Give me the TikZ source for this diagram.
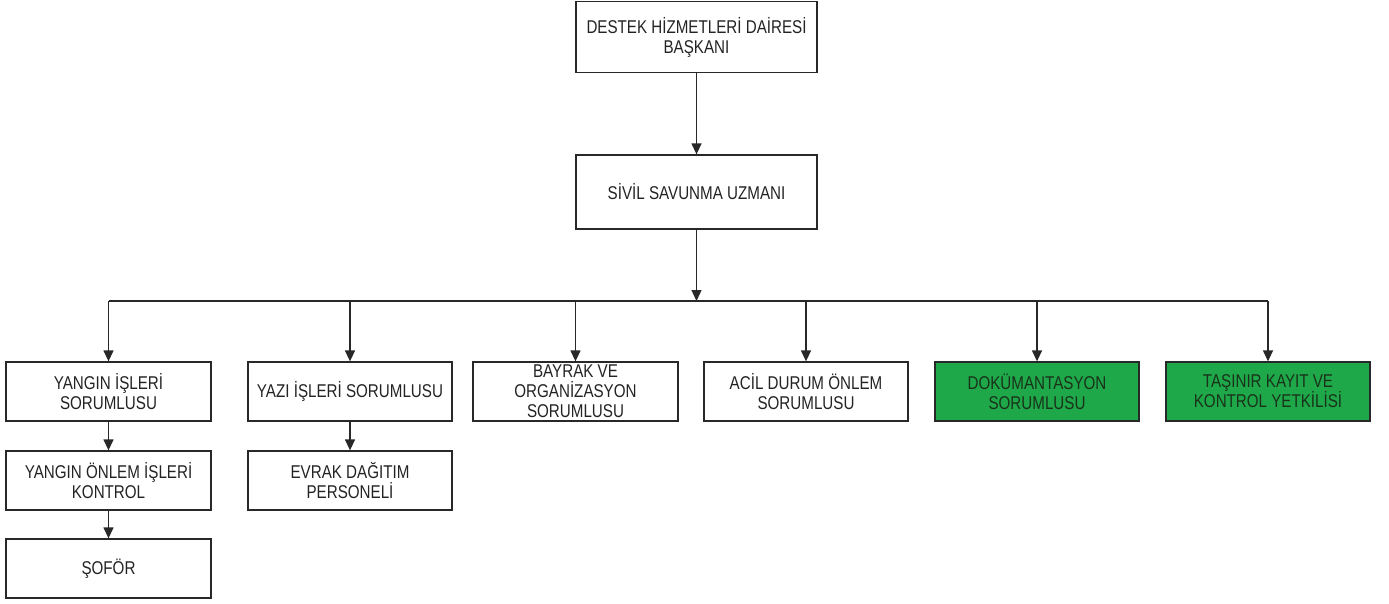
\documentclass[tikz,border=0pt]{standalone}
\usepackage{fontspec}
\setmainfont[FakeStretch=0.82]{Liberation Sans}
\usetikzlibrary{arrows.meta}
\definecolor{boxgreen}{RGB}{30,168,74}
\definecolor{lineC}{RGB}{40,40,40}
\definecolor{txtC}{RGB}{35,35,35}
\begin{document}
\begin{tikzpicture}[x=1pt,y=-1pt,
  box/.style={draw=lineC,line width=1.3pt,fill=white,inner sep=0pt,align=center,
    text=txtC,font=\fontsize{18.5}{20}\selectfont},
  gbox/.style={box,fill=boxgreen,text={rgb,255:red,25;green,50;blue,25}},
  arr/.style={draw=lineC,line width=1.3pt,-{Triangle[length=11pt,width=10pt]}},
  ln/.style={draw=lineC,line width=1.3pt}]
\useasboundingbox[fill=white] (0,0) rectangle (1389,603);
\node[box,minimum width=241pt,minimum height=71pt] (top) at (696.5,37) {DESTEK HİZMETLERİ DAİRESİ\\BAŞKANI};
\node[box,minimum width=241pt,minimum height=74pt] (ssu) at (696.5,192) {SİVİL SAVUNMA UZMANI};
\coordinate (bus) at (696.5,301);
\node[box,minimum width=205pt,minimum height=59pt] (b1) at (108.5,391.5) {YANGIN İŞLERİ\\SORUMLUSU};
\node[box,minimum width=204pt,minimum height=59pt] (b2) at (350,391.5) {YAZI İŞLERİ SORUMLUSU};
\node[box,minimum width=205pt,minimum height=59pt] (b3) at (575.5,391.5) {BAYRAK VE\\ORGANİZASYON\\SORUMLUSU};
\node[box,minimum width=204pt,minimum height=59pt] (b4) at (806,391.5) {ACİL DURUM ÖNLEM\\SORUMLUSU};
\node[gbox,minimum width=204pt,minimum height=59pt] (b5) at (1037,391.5) {DOKÜMANTASYON\\SORUMLUSU};
\node[gbox,minimum width=204pt,minimum height=59pt] (b6) at (1268,391.5) {TAŞINIR KAYIT VE\\KONTROL YETKİLİSİ};
\node[box,minimum width=205pt,minimum height=59pt] (c1) at (108.5,480.5) {YANGIN ÖNLEM İŞLERİ\\KONTROL};
\node[box,minimum width=204pt,minimum height=59pt] (c2) at (350,480.5) {EVRAK DAĞITIM\\PERSONELİ};
\node[box,minimum width=205pt,minimum height=59pt] (d1) at (108.5,568.5) {ŞOFÖR};
\draw[arr] (top.south) -- (ssu.north);
\draw[arr] (ssu.south) -- (bus);
\draw[ln] (b1.north |- bus) -- (b6.north |- bus);
\foreach \n in {b1,b2,b3,b4,b5,b6} \draw[arr] (\n.north |- bus) -- (\n.north);
\draw[arr] (b1.south) -- (c1.north);
\draw[arr] (c1.south) -- (d1.north);
\draw[arr] (b2.south) -- (c2.north);
\end{tikzpicture}
\end{document}
